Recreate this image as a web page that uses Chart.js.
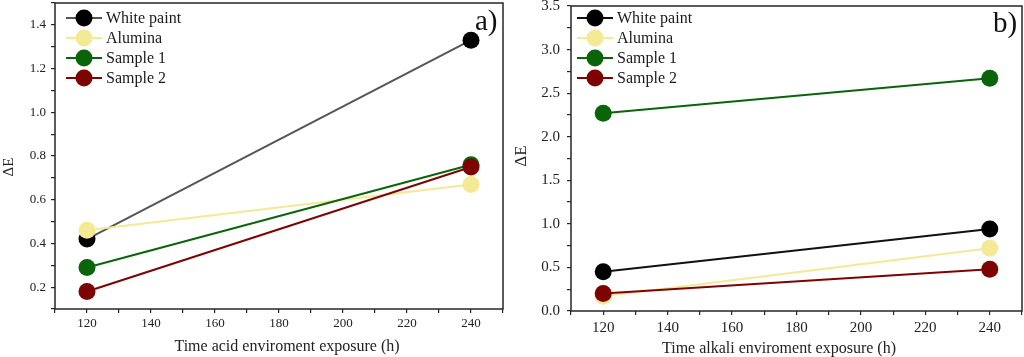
<!DOCTYPE html>
<html><head><meta charset="utf-8">
<script src="https://cdn.jsdelivr.net/npm/chart.js@4.4.0/dist/chart.umd.min.js"></script>
<style>
html,body{margin:0;padding:0;background:#fff;}
#wrap{display:flex;width:1024px;height:357px;}
canvas{display:block;}
</style></head><body>
<div id="wrap"><canvas id="a" width="512" height="357"></canvas><canvas id="b" width="512" height="357"></canvas></div>
<script>
const hours = [120, 240];
const seriesNames = ['White paint', 'Alumina', 'Sample 1', 'Sample 2'];
const acidWhitePaint = [0.42, 1.33];
const acidAlumina = [0.46, 0.67];
const acidSample1 = [0.29, 0.76];
const acidSample2 = [0.18, 0.75];
const alkaliWhitePaint = [0.45, 0.94];
const alkaliAlumina = [0.17, 0.72];
const alkaliSample1 = [2.27, 2.67];
const alkaliSample2 = [0.20, 0.48];
const xTickLabels = [120, 140, 160, 180, 200, 220, 240];
const panelLabels = ['a)', 'b)'];
const xTitles = ['Time acid enviroment exposure (h)', 'Time alkali enviroment exposure (h)'];
const yTitle = 'ΔE';

const markerColors = ['#000000', '#F4E995', '#0A650A', '#7E0303'];
const SERIF = "'Liberation Serif', 'Times New Roman', serif";
const AX = '#262626';

const frameAndLegend = {
  id: 'frameAndLegend',
  beforeDatasetsDraw(chart) {
    const {ctx, chartArea: a} = chart;
    ctx.save();
    ctx.strokeStyle = AX; ctx.lineWidth = 1.5;
    ctx.strokeRect(a.left, a.top, a.right - a.left, a.bottom - a.top);
    ctx.restore();
  },
  afterDatasetsDraw(chart, args, o) {
    const {ctx} = chart;
    ctx.save();
    chart.data.datasets.forEach((ds, i) => {
      const y = o.y0 + i * o.dy;
      ctx.strokeStyle = ds.borderColor; ctx.lineWidth = 2;
      ctx.beginPath(); ctx.moveTo(o.cx - 18, y); ctx.lineTo(o.cx + 18, y); ctx.stroke();
      ctx.fillStyle = ds.pointBackgroundColor;
      ctx.beginPath(); ctx.arc(o.cx, y, 8.5, 0, Math.PI * 2); ctx.fill();
      ctx.fillStyle = '#1a1a1a';
      ctx.font = '16px ' + SERIF;
      ctx.textBaseline = 'middle'; ctx.textAlign = 'left';
      ctx.fillText(ds.label, o.tx, y + 1);
    });
    // panel label
    ctx.font = '29px ' + SERIF;
    ctx.fillStyle = '#111';
    ctx.textBaseline = 'alphabetic';
    ctx.fillText(o.panel, o.px, o.py);
    // axis titles
    ctx.fillStyle = '#222';
    ctx.textAlign = 'center'; ctx.textBaseline = 'middle';
    ctx.font = '16px ' + SERIF;
    ctx.fillText(o.xTitle, o.xtx, o.xty);
    ctx.translate(o.ytx, o.yty);
    ctx.rotate(-Math.PI / 2);
    ctx.font = o.ytSize + 'px ' + SERIF;
    ctx.fillText(yTitle, 0, 0);
    ctx.restore();
  }
};

function makeDatasets(vals, lineColors) {
  return vals.map((v, i) => ({
    label: seriesNames[i],
    data: v.map((y, j) => ({x: hours[j], y})),
    borderColor: lineColors[i],
    backgroundColor: markerColors[i],
    pointBackgroundColor: markerColors[i],
    pointBorderColor: markerColors[i],
    pointBorderWidth: 0,
    pointRadius: 8.5,
    borderWidth: 2,
    order: 4 - i,
    tension: 0,
    clip: false
  }));
}

function makeChart(id, vals, lineColors, cfg) {
  return new Chart(document.getElementById(id), {
    type: 'line',
    data: { datasets: makeDatasets(vals, lineColors) },
    options: {
      responsive: false, animation: false, events: [],
      layout: { padding: cfg.pad, autoPadding: false },
      plugins: { legend: { display: false }, tooltip: { enabled: false },
        frameAndLegend: cfg.legend },
      scales: {
        x: {
          type: 'linear', min: 110, max: 250,
          afterFit: s => { s.height = cfg.xh; s.paddingLeft = 0; s.paddingRight = 0; },
          grid: { drawOnChartArea: false, drawTicks: true, tickLength: 4, color: AX, lineWidth: 1.2 },
          border: { display: false },
          ticks: { stepSize: 10, autoSkip: false, maxRotation: 0, padding: cfg.xpad, color: '#222',
            font: { family: SERIF, size: cfg.tickSize },
            callback: v => xTickLabels.includes(v) ? String(v) : '' },
          title: { display: false }
        },
        y: {
          min: cfg.ymin, max: cfg.ymax,
          afterFit: s => { s.width = cfg.yw; s.paddingTop = 0; s.paddingBottom = 0; },
          grid: { drawOnChartArea: false, drawTicks: true, tickLength: 4, color: AX, lineWidth: 1.2 },
          border: { display: false },
          ticks: { stepSize: cfg.ystep, autoSkip: false, padding: cfg.ypad, color: '#222',
            font: { family: SERIF, size: cfg.tickSize },
            callback: v => { const k = Math.round(v / cfg.ystep); return k % 2 === 0 ? (Math.round(v * 10) / 10).toFixed(1) : ''; } },
          title: { display: false }
        }
      }
    },
    plugins: [frameAndLegend]
  });
}

makeChart('a', [acidWhitePaint, acidAlumina, acidSample1, acidSample2],
  ['#555555', markerColors[1], markerColors[2], markerColors[3]],
  { pad: { left: 0, right: 9, top: 3, bottom: 0 }, xh: 48, yw: 55, xpad: 3, ypad: 5,
    tickSize: 13, ymin: 0.1, ymax: 1.5, ystep: 0.1,
    legend: { cx: 84, tx: 106, y0: 18, dy: 20, panel: panelLabels[0], px: 475, py: 30,
      xTitle: xTitles[0], xtx: 287, xty: 347, ytx: 9, yty: 167, ytSize: 15 } });

makeChart('b', [alkaliWhitePaint, alkaliAlumina, alkaliSample1, alkaliSample2],
  ['#111111', markerColors[1], markerColors[2], markerColors[3]],
  { pad: { left: 0, right: 2, top: 6, bottom: 0 }, xh: 46, yw: 59, xpad: 4, ypad: 7,
    tickSize: 15, ymin: 0, ymax: 3.5, ystep: 0.25,
    legend: { cx: 83, tx: 105, y0: 18, dy: 20, panel: panelLabels[1], px: 481, py: 32,
      xTitle: xTitles[1], xtx: 267, xty: 349, ytx: 10, yty: 156, ytSize: 17 } });
</script>
</body></html>
